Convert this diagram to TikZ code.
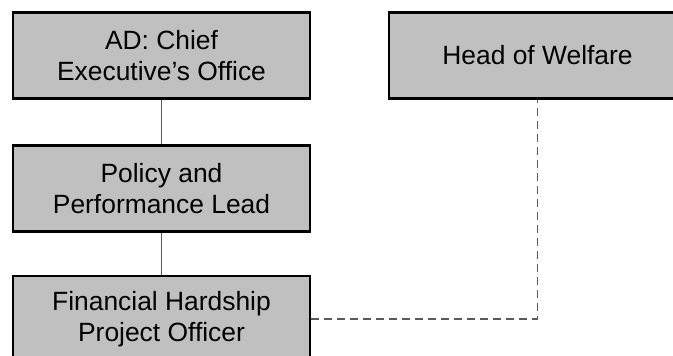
\documentclass[tikz,border=0pt]{standalone}
\usepackage{fontspec}
\setmainfont{Liberation Sans}
\usetikzlibrary{positioning}

\definecolor{postgray}{HTML}{C0C0C0}
\definecolor{linkgray}{HTML}{5A5A5A}

\tikzset{post/.style={draw=black,line width=1.2pt,fill=postgray,rectangle,
		minimum width=148.5pt,minimum height=43pt,inner sep=0pt,align=center,
		font=\fontsize{13.2}{15.5}\selectfont}}
\tikzstyle{solidlink}=[draw=linkgray,line width=0.6pt]
\tikzstyle{dottedlink}=[draw=linkgray,line width=0.6pt,dash pattern=on 4pt off 2.5pt]

\begin{document}
\begin{tikzpicture}[x=0.5pt,y=-0.5pt]
	\clip (0,0) rectangle (673,356);
	\node (AD)[post] at (161.5,55.5)  {AD: Chief\\Executive’s Office};
	\node (PP)[post] at (161.5,188.5) {Policy and\\Performance Lead};
	\node (FH)[post] at (161.5,319)   {Financial Hardship\\Project Officer};
	\node (HW)[post] at (537.5,55.5)  {Head of Welfare};
	
	\draw[solidlink] (AD) -- (PP);
	\draw[solidlink] (PP) -- (FH);
	\draw[dottedlink] (FH.east) -| (HW.south);
\end{tikzpicture}
\end{document}
